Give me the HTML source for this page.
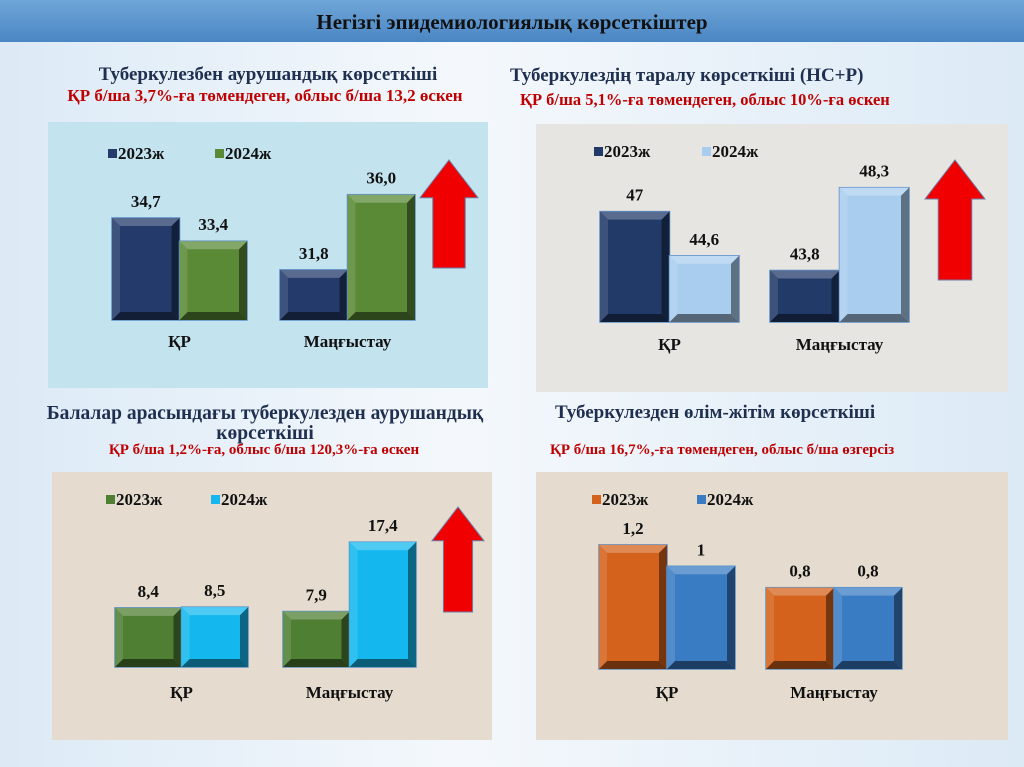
<!DOCTYPE html>
<html><head><meta charset="utf-8"><style>
body{margin:0;width:1024px;height:767px;overflow:hidden;font-family:"Liberation Serif",serif;}
#bg{position:absolute;left:0;top:0;width:1024px;height:767px;background:linear-gradient(90deg,#dceaf6 0%,#f4f8fc 45%,#dceaf6 100%);}
</style></head><body>
<div id="bg"></div>
<svg id="s" width="1024" height="767" style="position:absolute;left:0;top:0" font-family="Liberation Serif, serif">
<defs>
<linearGradient id="hdr" x1="0" y1="0" x2="0" y2="1"><stop offset="0" stop-color="#6fa6d8"/><stop offset="1" stop-color="#4b86c4"/></linearGradient>
</defs>
<rect x="0" y="0" width="1024" height="42" fill="url(#hdr)"/>
<text x="512" y="29" text-anchor="middle" font-size="21" font-weight="bold" fill="#111">Негізгі эпидемиологиялық көрсеткіштер</text>
<text x="268" y="80" text-anchor="middle" font-size="19" font-weight="bold" fill="#1f2f4f">Туберкулезбен аурушандық көрсеткіші</text>
<text x="265" y="101" text-anchor="middle" font-size="17" font-weight="bold" fill="#c00000">ҚР б/ша  3,7%-ға төмендеген, облыс б/ша 13,2 өскен</text>
<text x="510" y="81" font-size="19" font-weight="bold" fill="#1f2f4f">Туберкулездің  таралу көрсеткіші (НС+Р)</text>
<text x="520" y="105" font-size="16.5" font-weight="bold" fill="#c00000">ҚР б/ша 5,1%-ға төмендеген,  облыс 10%-ға өскен</text>
<text x="265" y="419" text-anchor="middle" font-size="19.5" font-weight="bold" fill="#1f2f4f">Балалар арасындағы туберкулезден аурушандық</text>
<text x="265" y="439" text-anchor="middle" font-size="19.5" font-weight="bold" fill="#1f2f4f">көрсеткіші</text>
<text x="264" y="454" text-anchor="middle" font-size="15" font-weight="bold" fill="#c00000">ҚР б/ша 1,2%-ға,   облыс б/ша 120,3%-ға өскен</text>
<text x="555" y="418" font-size="19" font-weight="bold" fill="#1f2f4f">Туберкулезден өлім-жітім көрсеткіші</text>
<text x="550" y="454" font-size="15" font-weight="bold" fill="#c00000">ҚР б/ша 16,7%,-ға төмендеген, облыс б/ша өзгерсіз</text>
<g id="charts"></g>
</svg>
<script>
const categories=["ҚР","Маңғыстау"];
const legendLabels=["2023ж","2024ж"];
const c1_2023=[34.7,31.8], c1_2024=[33.4,36.0], c1_labels2023=["34,7","31,8"], c1_labels2024=["33,4","36,0"];
const c2_2023=[47,43.8], c2_2024=[44.6,48.3], c2_labels2023=["47","43,8"], c2_labels2024=["44,6","48,3"];
const c3_2023=[8.4,7.9], c3_2024=[8.5,17.4], c3_labels2023=["8,4","7,9"], c3_labels2024=["8,5","17,4"];
const c4_2023=[1.2,0.8], c4_2024=[1,0.8], c4_labels2023=["1,2","0,8"], c4_labels2024=["1","0,8"];
const NS="http://www.w3.org/2000/svg";
const root=document.getElementById('charts');
function mk(tag,attrs,parent){const e=document.createElementNS(NS,tag);for(const k in attrs)e.setAttribute(k,attrs[k]);(parent||root).appendChild(e);return e;}
function shade(hex,f){const n=parseInt(hex.slice(1),16);let r=n>>16,g=(n>>8)&255,b=n&255;const m=v=>Math.max(0,Math.min(255,Math.round(f<1?v*f:v+(255-v)*(f-1))));return "rgb("+m(r)+","+m(g)+","+m(b)+")";}
const charts=[
 {id:"chart1",px:48,py:122,pw:440,ph:266,bg:"#c3e3ee",base:320,min:29.0,ppu:17.9,s1:c1_2023,s2:c1_2024,l1:c1_labels2023,l2:c1_labels2024,colors:["#233a6b","#5a8a35"],gx:[112,280],bw:67.5,leg:[[108,159],[215,159]],cy:347,arrow:[420,160,58,108]},
 {id:"chart2",px:536,py:124,pw:472,ph:268,bg:"#e7e5e1",base:322,min:41.0,ppu:18.4,s1:c2_2023,s2:c2_2024,l1:c2_labels2023,l2:c2_labels2024,colors:["#223a68","#a9cdee"],gx:[600,770],bw:69.5,leg:[[594,157],[702,157]],cy:350,arrow:[925,160,60,120]},
 {id:"chart3",px:52,py:472,pw:440,ph:268,bg:"#e5dccf",base:667,min:0.3,ppu:7.3,s1:c3_2023,s2:c3_2024,l1:c3_labels2023,l2:c3_labels2024,colors:["#4f7f32","#14b8ee"],gx:[115,283],bw:66.5,leg:[[106,505],[211,505]],cy:698,arrow:[432,507,52,105]},
 {id:"chart4",px:536,py:472,pw:472,ph:268,bg:"#e5dccf",base:669,min:0.04,ppu:107,s1:c4_2023,s2:c4_2024,l1:c4_labels2023,l2:c4_labels2024,colors:["#d4621c","#3a7cc4"],gx:[599,766],bw:68,leg:[[592,505],[697,505]],cy:698,arrow:null}
];
function bar(g,x,y,w,h,col,name){
 const b=mk('g',{},g);
 
 
 mk('rect',{x:x,y:y,width:w,height:h,fill:col,stroke:"#5b8fc8","stroke-width":1.5},b);
 const d=8;
 mk('polygon',{points:`${x+w-d},${y+d} ${x+w},${y} ${x+w},${y+h} ${x+w-d},${y+h-d}`,fill:shade(col,0.55)},b);
 mk('polygon',{points:`${x+d},${y+h-d} ${x+w-d},${y+h-d} ${x+w},${y+h} ${x},${y+h}`,fill:shade(col,0.5)},b);
 mk('polygon',{points:`${x},${y} ${x+w},${y} ${x+w-d},${y+d} ${x+d},${y+d}`,fill:shade(col,1.25)},b);
 mk('polygon',{points:`${x},${y} ${x+d},${y+d} ${x+d},${y+h-d} ${x},${y+h}`,fill:shade(col,1.12)},b);
}
charts.forEach(c=>{
 const g=mk('g',{});
 
 
 const p=mk('rect',{x:c.px,y:c.py,width:c.pw,height:c.ph,fill:c.bg},g);
 
 
 const yOf=v=>c.base-(v-c.min)*c.ppu;
 [c.s1,c.s2].forEach((s,si)=>{
  const labs=si?c.l2:c.l1;
  s.forEach((v,i)=>{
   const x=c.gx[i]+si*c.bw, y=yOf(v);
   bar(g,x,y,c.bw,c.base-y,c.colors[si],c.id+'-bar-'+legendLabels[si]+'-'+i);
   const t=mk('text',{x:x+c.bw/2,y:y-11,"text-anchor":"middle","font-size":17,"font-weight":"bold",fill:"#111"},g);
   t.textContent=labs[i];
   
   
  });
 });
 categories.forEach((cat,i)=>{
  const t=mk('text',{x:c.gx[i]+c.bw,y:c.cy,"text-anchor":"middle","font-size":17,"font-weight":"bold",fill:"#111"},g);
  t.textContent=cat;
  
  
 });
 legendLabels.forEach((l,i)=>{
  const [lx,ly]=c.leg[i];
  const e=mk('g',{},g);
  
  
  mk('rect',{x:lx,y:ly-10,width:9,height:9,fill:c.colors[i]},e);
  const t=mk('text',{x:lx+10,y:ly,"font-size":17,"font-weight":"bold",fill:"#111"},e);
  t.textContent=l;
 });
 if(c.arrow){
  const [ax,ay,aw,ah]=c.arrow, hh=aw*0.65, sw=aw*0.22;
  const a=mk('polygon',{points:`${ax+aw/2},${ay} ${ax+aw},${ay+hh} ${ax+aw-sw},${ay+hh} ${ax+aw-sw},${ay+ah} ${ax+sw},${ay+ah} ${ax+sw},${ay+hh} ${ax},${ay+hh}`,fill:"#f00000",stroke:"#6a7fa8","stroke-width":1},g);
  
  
 }
});
</script>
</body></html>
